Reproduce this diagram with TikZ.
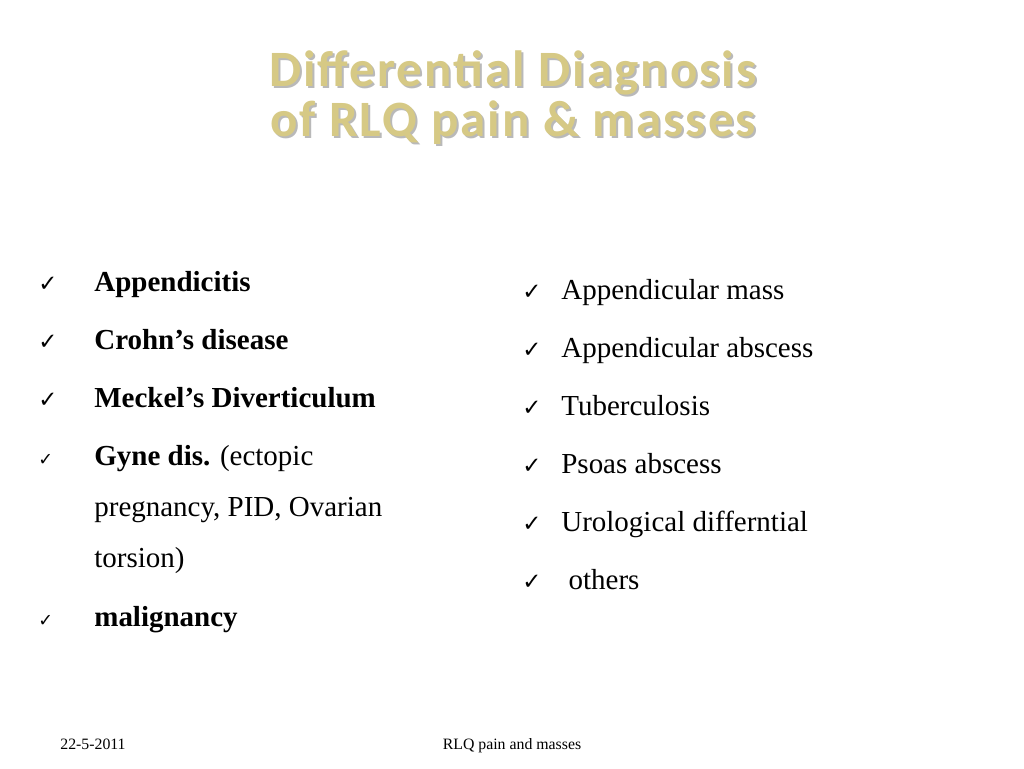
\documentclass[tikz,border=0pt]{standalone}
\usepackage{fontspec}
\setmainfont{Liberation Serif}
\newfontfamily\titlefont[LetterSpace=4]{Carlito}
\newfontfamily\symfont{DejaVu Sans}
\usetikzlibrary{positioning}
\definecolor{titlegold}{HTML}{D6C985}
\tikzset{
  item/.style={anchor=base west, font=\fontsize{16.5}{19}\selectfont, inner sep=0pt},
  tick/.style={anchor=base west, font=\symfont\fontsize{13}{15}\selectfont, inner sep=0pt},
  smalltick/.style={anchor=base west, font=\symfont\fontsize{10}{12}\selectfont, inner sep=0pt},
  footer/.style={anchor=base, font=\fontsize{9}{11}\selectfont, inner sep=0pt},
  titletext/.style={anchor=base, font=\titlefont\bfseries\fontsize{29}{32}\selectfont}
}
\begin{document}
\begin{tikzpicture}[x=0.02cm, y=-0.02cm]
\useasboundingbox (0,0) rectangle (1024,768);
% title with shadow
\foreach \row/\txt in {86/{Differential Diagnosis}, 136/{of RLQ pain \& masses}} {
  \node[titletext, text=gray!55] at (515,\row+2) {\txt};
  \node[titletext, text=titlegold] (t\row) at (513,\row) {\txt};
}
% left column
\node[tick] (l1) at (38,291) {✓};
\node[item] (a1) at (94,291) {\textbf{Appendicitis}};
\node[tick] (l2) at (38,349) {✓};
\node[item] (a2) at (94,349) {\textbf{Crohn’s disease}};
\node[tick] (l3) at (38,407) {✓};
\node[item] (a3) at (94,407) {\textbf{Meckel’s Diverticulum}};
\node[smalltick] (l4) at (38,465) {✓};
\node[item] (a4) at (94,465) {\textbf{Gyne dis.} (ectopic};
\node[item] (a5) at (94,516) {pregnancy, PID, Ovarian};
\node[item] (a6) at (94,567) {torsion)};
\node[smalltick] (l5) at (38,626) {✓};
\node[item] (a7) at (94,626) {\textbf{malignancy}};
% right column
\foreach \y/\txt [count=\i] in {299/Appendicular mass, 357/Appendicular abscess, 415/Tuberculosis, 473/Psoas abscess, 531/Urological differntial, 589/\ others} {
  \node[tick] (r\i) at (522,\y) {✓};
  \node[item] (b\i) at (561,\y) {\txt};
}
% footer
\node[footer, anchor=base west] (date) at (60,749) {22-5-2011};
\node[footer] (foot) at (512,749) {RLQ pain and masses};
\end{tikzpicture}
\end{document}
